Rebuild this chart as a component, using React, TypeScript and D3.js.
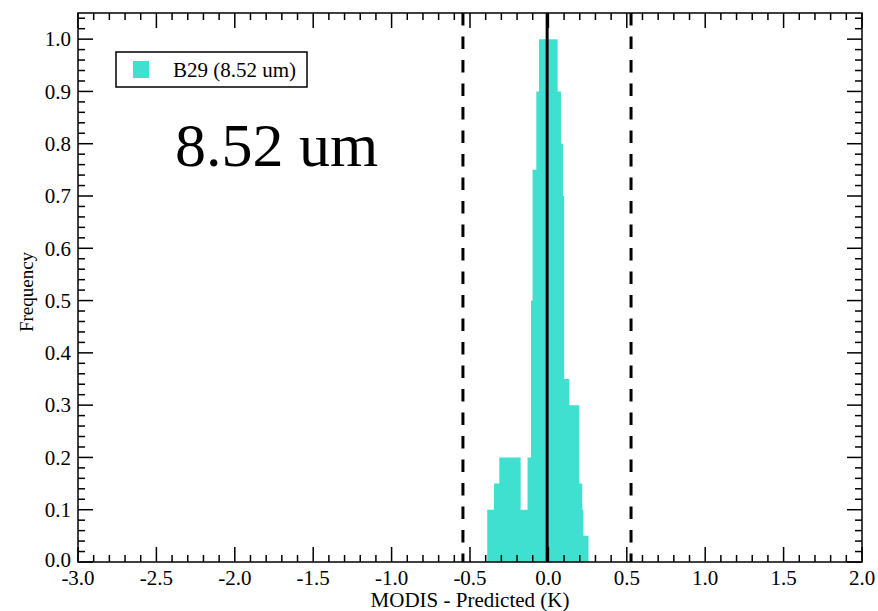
import React from "react";
import * as d3 from "d3";

// Histogram bin edges (K) and frequencies
const binEdges = [-0.390, -0.347, -0.313, -0.177, -0.133, -0.111, -0.101, -0.077, -0.060, 0.059, 0.080, 0.093, 0.101, 0.133, 0.197, 0.216, 0.223, 0.256];
const frequencies = [0.1, 0.15, 0.2, 0.1, 0.2, 0.5, 0.75, 0.9, 1.0, 0.9, 0.8, 0.7, 0.35, 0.3, 0.15, 0.1, 0.05];
const dashedLines = [-0.545, 0.527];
const meanLine = -0.008;
const xMajorTicks = [-3.0, -2.5, -2.0, -1.5, -1.0, -0.5, 0.0, 0.5, 1.0, 1.5, 2.0];
const yMajorTicks = [0.0, 0.1, 0.2, 0.3, 0.4, 0.5, 0.6, 0.7, 0.8, 0.9, 1.0];
const legendLabel = "B29 (8.52 um)";
const bigLabel = "8.52 um";

const W = 878, H = 611;
const L = 78, R = 862, T = 13, B = 562;
const FONT = "'Liberation Serif', 'Times New Roman', serif";

export default function App() {
  const x = d3.scaleLinear().domain([-3, 2]).range([L, R]);
  const y = d3.scaleLinear().domain([0, 1.05]).range([B, T]);
  const xMinor = d3.range(-30, 21).map((i) => i / 10);
  const yMinor = d3.range(0, 53).map((i) => i / 50);
  const isMajorX = (v: number) => Math.abs(v * 2 - Math.round(v * 2)) < 1e-6;
  const isMajorY = (v: number) => Math.abs(v * 10 - Math.round(v * 10)) < 1e-6;
  const MAJ = 15, MIN = 7;
  const tickStyle = { stroke: "#000", strokeWidth: 1.5 };

  const steps = frequencies.map((f, i) => ({ e: binEdges[i], f }));
  steps.push({ e: binEdges[binEdges.length - 1], f: frequencies[frequencies.length - 1] });
  const area = d3
    .area<{ e: number; f: number }>()
    .x((d) => x(d.e))
    .y0(y(0))
    .y1((d) => y(d.f))
    .curve(d3.curveStepAfter);

  return (
    <svg width={W} height={H} style={{ position: "absolute", left: 0, top: 0, background: "#fff" }} fontFamily={FONT}>
      <rect x={0} y={0} width={W} height={H} fill="#fff" />
      <path d={area(steps) || ""} fill="#40E0D0" />
      {dashedLines.map((v, i) => (
        <line key={i} x1={x(v)} x2={x(v)} y1={T} y2={B} stroke="#000" strokeWidth={3} strokeDasharray="12.5,11" />
      ))}
      <line x1={x(meanLine)} x2={x(meanLine)} y1={T} y2={B} stroke="#000" strokeWidth={3} />
      {xMinor.map((v, i) => {
        const len = isMajorX(v) ? MAJ : MIN;
        return (
          <g key={"xt" + i}>
            <line x1={x(v)} x2={x(v)} y1={B} y2={B - len} {...tickStyle} />
            <line x1={x(v)} x2={x(v)} y1={T} y2={T + len} {...tickStyle} />
          </g>
        );
      })}
      {yMinor.map((v, i) => {
        const len = isMajorY(v) ? MAJ : MIN;
        return (
          <g key={"yt" + i}>
            <line x1={L} x2={L + len} y1={y(v)} y2={y(v)} {...tickStyle} />
            <line x1={R} x2={R - len} y1={y(v)} y2={y(v)} {...tickStyle} />
          </g>
        );
      })}
      <rect x={L} y={T} width={R - L} height={B - T} fill="none" stroke="#000" strokeWidth={1.5} />
      {xMajorTicks.map((v, i) => (
        <text key={"xl" + i} x={x(v)} y={585} fontSize={21} textAnchor="middle">{v.toFixed(1)}</text>
      ))}
      {yMajorTicks.map((v, i) => (
        <text key={"yl" + i} x={71} y={y(v) - (v === 0 ? 2 : 0)} dy="0.35em" fontSize={21} textAnchor="end">{v.toFixed(1)}</text>
      ))}
      <text x={(L + R) / 2} y={607} fontSize={21} textAnchor="middle">MODIS - Predicted (K)</text>
      <text transform={`translate(33,292) rotate(-90)`} fontSize={19} textAnchor="middle">Frequency</text>
      <rect x={116} y={52} width={191} height={35} fill="#fff" stroke="#000" strokeWidth={1.5} />
      <rect x={133} y={61} width={16} height={17} fill="#40E0D0" />
      <text x={173} y={77} fontSize={21}>{legendLabel}</text>
      <text x={175} y={166} fontSize={62}>{bigLabel}</text>
    </svg>
  );
}
